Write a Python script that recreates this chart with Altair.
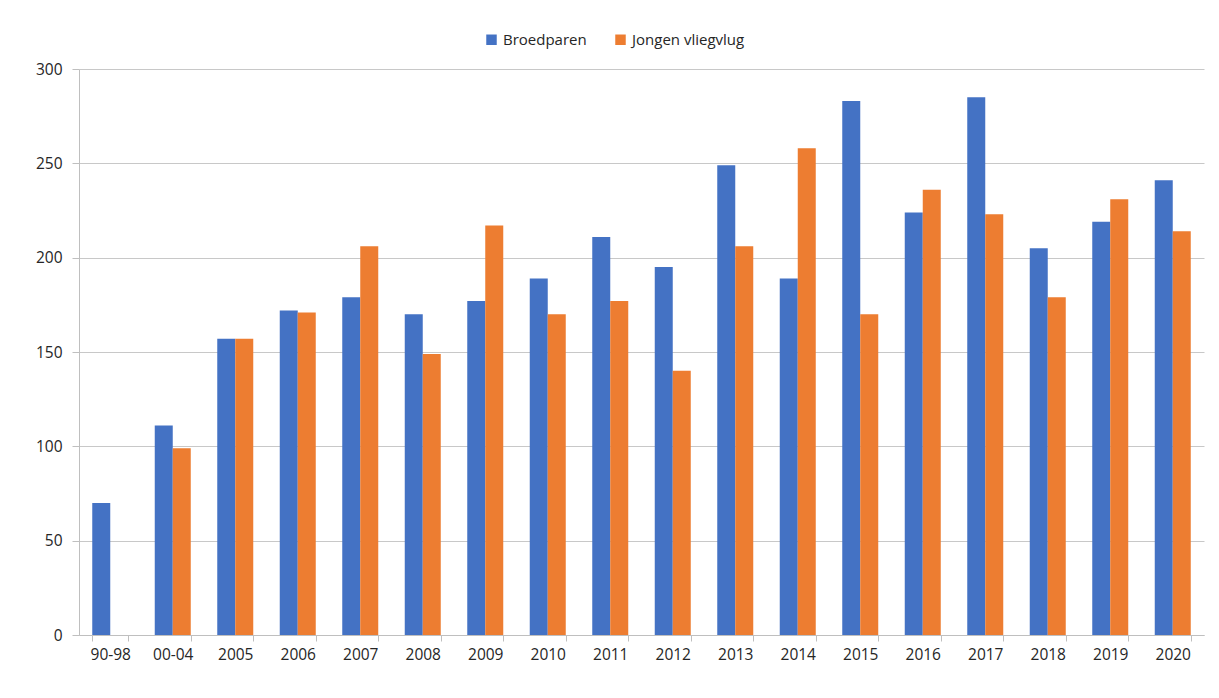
import altair as alt
import pandas as pd

categories = ["90-98", "00-04", "2005", "2006", "2007", "2008", "2009", "2010", "2011",
              "2012", "2013", "2014", "2015", "2016", "2017", "2018", "2019", "2020"]
broedparen = [70, 111, 157, 172, 179, 170, 177, 189, 211, 195, 249, 189, 283, 224, 285, 205, 219, 241]
jongen = [None, 99, 157, 171, 206, 149, 217, 170, 177, 140, 206, 258, 170, 236, 223, 179, 231, 214]
series_names = ["Broedparen", "Jongen vliegvlug"]
colors = ["#4472C4", "#ED7D31"]

rows = []
for c, b, j in zip(categories, broedparen, jongen):
    rows.append({"cat": c, "serie": series_names[0], "v": b})
    if j is not None:
        rows.append({"cat": c, "serie": series_names[1], "v": j})
df = pd.DataFrame(rows)

FONT = "Open Sans"
LBL = "#262626"

chart = alt.Chart(df).mark_bar().encode(
    x=alt.X("cat:N", sort=categories, title=None,
            scale=alt.Scale(paddingInner=0.424, paddingOuter=0.212),
            axis=alt.Axis(labelAngle=0, tickBand="extent", tickExtra=True, grid=False,
                          domainColor="#bfbfbf", tickColor="#bfbfbf", tickSize=6, labelPadding=6,
                          labelFontSize=15.5, labelFont=FONT, labelColor=LBL)),
    xOffset=alt.XOffset("serie:N", sort=series_names, scale=alt.Scale(paddingInner=0, paddingOuter=0)),
    y=alt.Y("v:Q", title=None, scale=alt.Scale(domain=[0, 300], nice=False),
            axis=alt.Axis(values=[0, 50, 100, 150, 200, 250, 300], grid=True,
                          gridColor="#c8c8c8", domainColor="#bfbfbf", tickColor="#bfbfbf",
                          tickSize=7, labelPadding=10, labelFontSize=15.5, labelFont=FONT,
                          labelColor=LBL)),
    color=alt.Color("serie:N", sort=series_names, title=None,
                    scale=alt.Scale(domain=series_names, range=colors),
                    legend=alt.Legend(orient="none", direction="horizontal", legendX=405, legendY=-37,
                                      symbolType="square", symbolSize=110, symbolStrokeWidth=0,
                                      labelFontSize=15, labelFont=FONT, labelColor=LBL,
                                      columnPadding=26, labelOffset=4)),
).properties(
    width=1125, height=566,
    autosize=alt.AutoSizeParams(type="none"),
    padding={"left": 71, "top": 61, "right": 5, "bottom": 50},
).configure(background="white").configure_view(
    strokeWidth=0, strokeOpacity=0, stroke="transparent"
).configure_axisX(grid=False, gridOpacity=0).configure_axisY(domain=True)

chart.save("out.html", embed_options={"renderer": "svg", "actions": False})
